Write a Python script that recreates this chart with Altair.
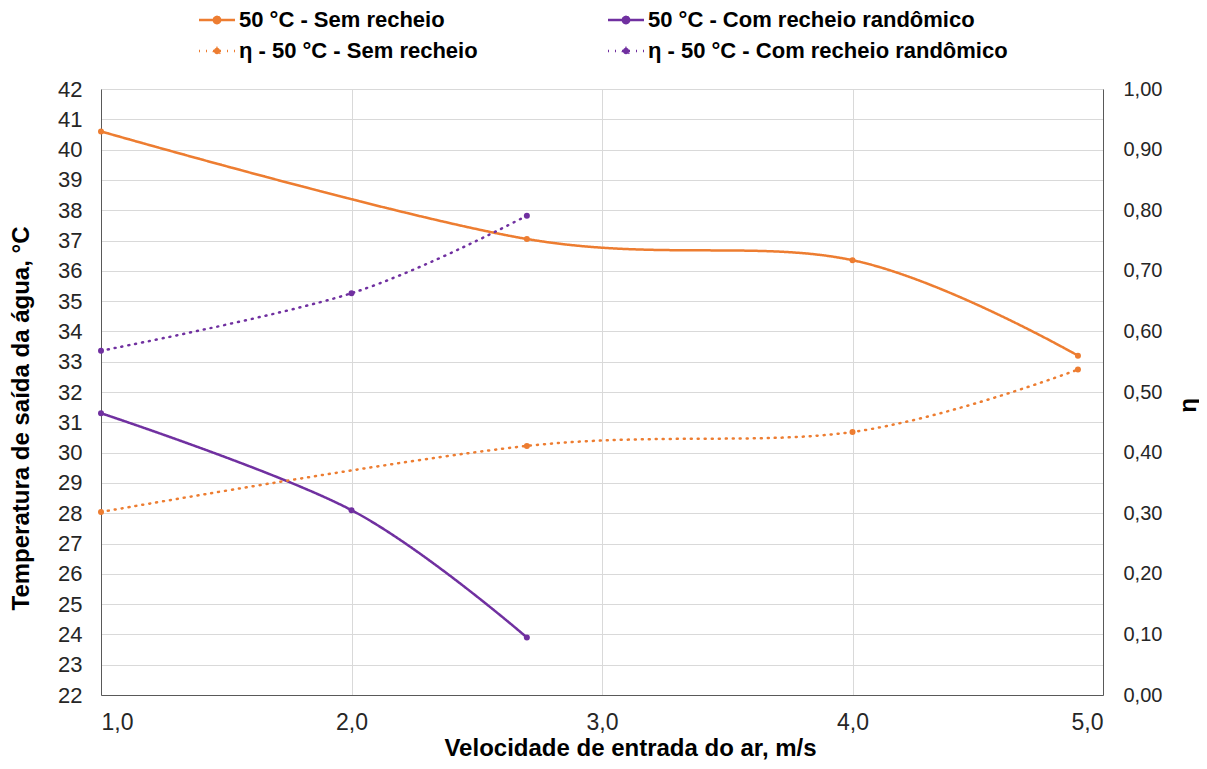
import altair as alt
import pandas as pd

# ---- data ----
series_names = [
    "50 °C - Sem recheio",
    "50 °C - Com recheio randômico",
    "η - 50 °C - Sem recheio",
    "η - 50 °C - Com recheio randômico",
]
series_colors = ["#ED7D31", "#7030A0", "#ED7D31", "#7030A0"]
series_dash = [[1, 0], [1, 0], [1, 6], [1, 6]]

vel_sem = [1.0, 2.7, 4.0, 4.9]
temp_sem = [40.6, 37.05, 36.35, 33.2]
eta_sem = [0.302, 0.411, 0.434, 0.537]

vel_com = [1.0, 2.0, 2.7]
temp_com = [31.3, 28.1, 23.9]
eta_com = [0.568, 0.663, 0.791]

x_ticks = [1, 2, 3, 4, 5]
temp_ticks = list(range(22, 43))
eta_ticks = [i / 10 for i in range(11)]

df_temp = pd.DataFrame(
    {"series": [series_names[0]] * len(vel_sem) + [series_names[1]] * len(vel_com),
     "vel": vel_sem + vel_com,
     "value": temp_sem + temp_com}
)
df_eta = pd.DataFrame(
    {"series": [series_names[2]] * len(vel_sem) + [series_names[3]] * len(vel_com),
     "vel": vel_sem + vel_com,
     "value": eta_sem + eta_com}
)

FONT = "Liberation Sans"
NARROW = "Liberation Sans Narrow, Arial Narrow, Liberation Sans"

x_enc = alt.X(
    "vel:Q",
    scale=alt.Scale(domain=[1, 5], nice=False),
    axis=alt.Axis(
        values=x_ticks, labelExpr="replace(format(datum.value, '.1f'), '.', ',')",
        ticks=False, grid=True, gridColor="#d9d9d9", domainColor="#595959",
        labelFont=NARROW, labelFontSize=23, labelPadding=16, labelColor="#262626",
        title="Velocidade de entrada do ar, m/s", titleFontSize=24, titleFontWeight="bold",
        titleX=529, titleY=53, titleBaseline="middle", titleAlign="center", titleColor="#000000",
    ),
)

legend = alt.Legend(
    title=None, orient="none", legendX=105, legendY=-80, columns=2, direction="horizontal",
    symbolType="M-2,0L2,0M-0.35,0A0.35,0.35,0,1,0,0.35,0A0.35,0.35,0,1,0,-0.35,0Z",
    symbolSize=324, symbolStrokeWidth=2.5, labelOffset=11, columnPadding=125, rowPadding=9,
    labelFont=FONT, labelFontSize=22, labelFontWeight="bold", labelColor="#000000", labelLimit=600,
    padding=0,
)

color_enc = alt.Color("series:N", scale=alt.Scale(domain=series_names, range=series_colors), legend=legend)
dash_enc = alt.StrokeDash("series:N", scale=alt.Scale(domain=series_names, range=series_dash), legend=legend)

y_temp = alt.Y(
    "value:Q",
    scale=alt.Scale(domain=[22, 42], nice=False, zero=False),
    axis=alt.Axis(
        values=temp_ticks, format="d", grid=True, gridColor="#d9d9d9", domainColor="#595959",
        ticks=False, labelFontSize=22, labelPadding=19, labelColor="#262626",
        title="Temperatura de saída da água, °C", titleFontSize=24, titleFontWeight="bold",
        titleX=-80, titleY=329, titleAngle=270, titleBaseline="middle", titleAlign="center",
        titleColor="#000000",
    ),
)
y_eta = alt.Y(
    "value:Q",
    scale=alt.Scale(domain=[0, 1], nice=False),
    axis=alt.Axis(
        orient="right", values=eta_ticks, labelExpr="replace(format(datum.value, '.2f'), '.', ',')",
        grid=False, ticks=False, domainColor="#595959", labelFontSize=20, labelPadding=20,
        labelColor="#262626", title="η", titleFontSize=24, titleFontWeight="bold",
        titleX=85, titleY=316, titleAngle=270, titleBaseline="middle", titleAlign="center",
        titleColor="#000000",
    ),
)

line_kw = dict(interpolate="cardinal", strokeWidth=2.5, strokeCap="round")
pt_kw = dict(filled=True, size=36, opacity=1, shape="circle")

temp_line = alt.Chart(df_temp).mark_line(**line_kw).encode(x=x_enc, y=y_temp, color=color_enc, strokeDash=dash_enc)
temp_pts = alt.Chart(df_temp).mark_point(**pt_kw).encode(x=x_enc, y=y_temp, color=color_enc)
eta_line = alt.Chart(df_eta).mark_line(**line_kw).encode(x=x_enc, y=y_eta, color=color_enc, strokeDash=dash_enc)
eta_pts = alt.Chart(df_eta).mark_point(**pt_kw).encode(x=x_enc, y=y_eta, color=color_enc)

chart = (
    alt.layer(alt.layer(temp_line, temp_pts), alt.layer(eta_line, eta_pts))
    .resolve_scale(y="independent")
    .properties(
        width=1002, height=606,
        autosize=alt.AutoSizeParams(type="none"),
        padding={"left": 93, "top": 81, "right": 96, "bottom": 66},
    )
    .configure(font=FONT)
    .configure_view(stroke=None)
    .configure_axis(labelFont=FONT, titleFont=FONT)
)

chart.save("out.html", embed_options={"renderer": "svg", "actions": False})
